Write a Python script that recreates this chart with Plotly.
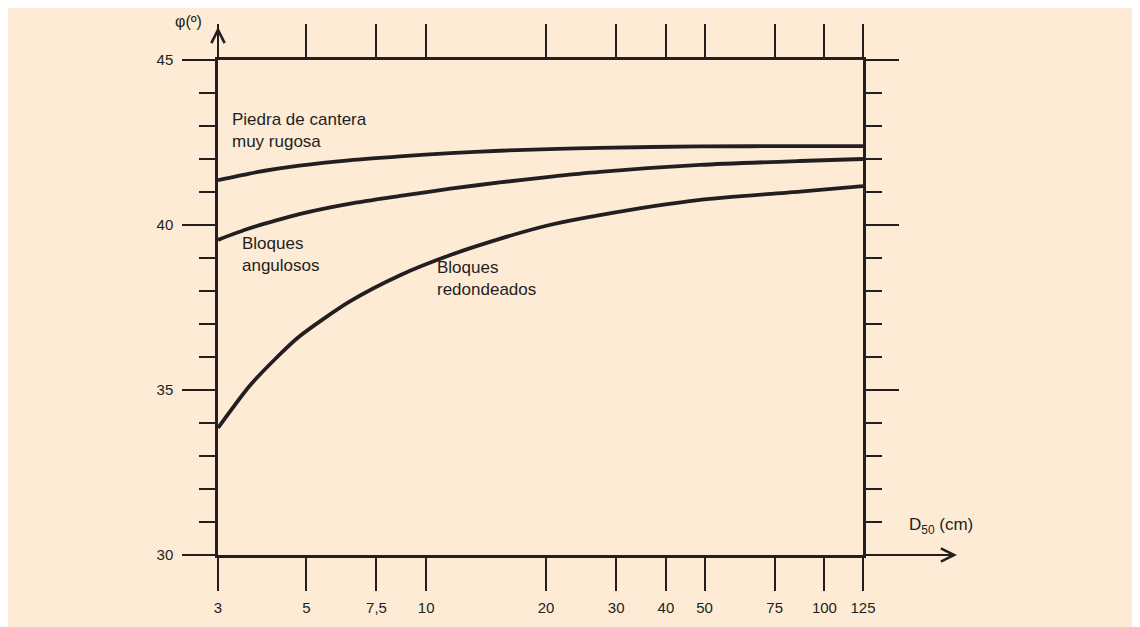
import plotly.graph_objects as go
import numpy as np

# ---------------- data ----------------
d50 = [3, 3.6, 4.2, 4.8, 6.4, 8.6, 11.5, 15.3, 20.4, 27.3, 48.7, 86.8, 125]
phi_cantera = [41.36, 41.56, 41.70, 41.80, 41.96, 42.08, 42.18, 42.25, 42.30, 42.34, 42.38, 42.39, 42.39]
phi_angulosos = [39.55, 39.90, 40.14, 40.33, 40.64, 40.88, 41.10, 41.29, 41.46, 41.61, 41.82, 41.94, 42.00]
phi_redondeados = [33.85, 35.12, 35.97, 36.62, 37.67, 38.48, 39.09, 39.58, 40.00, 40.30, 40.76, 41.01, 41.18]

x_tickvals = [3, 5, 7.5, 10, 20, 30, 40, 50, 75, 100, 125]
x_ticktext = ["3", "5", "7,5", "10", "20", "30", "40", "50", "75", "100", "125"]
y_tickvals = [30, 35, 40, 45]

INK = "#231f20"
BG = "#fdebd6"
FONT = "Liberation Sans, Arial, sans-serif"

OFF = 8                     # page body margin
W, H = 1140 - OFF, 627 - OFF
L, R, T, B = 218, 863, 60, 555  # plot area in reference-page pixels


def px(xp):
    return (xp - L) / (R - L)


def py(yp):
    return (B - yp) / (B - T)


fig = go.Figure()
for ys in (phi_cantera, phi_angulosos, phi_redondeados):
    fig.add_trace(go.Scatter(x=d50, y=ys, mode="lines",
                             line=dict(color=INK, width=3.8, shape="spline", smoothing=0.7),
                             hoverinfo="skip", showlegend=False))

fig.update_layout(
    width=W, height=H,
    margin=dict(l=L - OFF, r=(1140 - R), t=T - OFF, b=627 - B, pad=0),
    paper_bgcolor=BG,
    plot_bgcolor=BG,
    font=dict(family=FONT, size=15, color=INK),
    showlegend=False,
    xaxis=dict(type="log", range=[np.log10(3), np.log10(125)],
               tickvals=x_tickvals, ticktext=x_ticktext,
               ticks="outside", ticklen=33, tickwidth=2, tickcolor=INK,
               showline=True, linewidth=2.5, linecolor=INK, mirror="ticks",
               showgrid=False, zeroline=False, ticklabelstandoff=4,
               tickfont=dict(size=15, color=INK, family=FONT)),
    yaxis=dict(range=[30, 45], tickvals=y_tickvals,
               ticks="outside", ticklen=33, tickwidth=2, tickcolor=INK,
               minor=dict(ticks="outside", ticklen=16, tickwidth=2, tickcolor=INK, dtick=1,
                          showgrid=False),
               showline=True, linewidth=2.5, linecolor=INK, mirror="ticks",
               showgrid=False, zeroline=False, ticklabelstandoff=6,
               tickfont=dict(size=15, color=INK, family=FONT)),
)

# arrowheads on the axes
fig.add_annotation(xref="paper", yref="paper", x=px(957), y=py(B), ax=-94, ay=0,
                   text="", showarrow=True, arrowhead=5, arrowsize=1.3, arrowwidth=2,
                   arrowcolor=INK, standoff=0)
fig.add_annotation(xref="paper", yref="paper", x=px(L), y=py(27), ax=0, ay=33,
                   text="", showarrow=True, arrowhead=5, arrowsize=1.3, arrowwidth=2,
                   arrowcolor=INK, standoff=0)

# labels
txt = dict(showarrow=False, xref="paper", yref="paper", xanchor="left", yanchor="top",
           align="left", font=dict(size=17, color=INK, family=FONT))
fig.add_annotation(x=px(230), y=py(108), text="Piedra de cantera<br>muy rugosa", **txt)
fig.add_annotation(x=px(240), y=py(232), text="Bloques<br>angulosos", **txt)
fig.add_annotation(x=px(435), y=py(256), text="Bloques<br>redondeados", **txt)
fig.add_annotation(x=px(188), y=py(22), text="φ(º)", showarrow=False, xref="paper",
                   yref="paper", xanchor="center", yanchor="middle",
                   font=dict(size=16, color=INK, family=FONT))
fig.add_annotation(x=px(907), y=py(526), text="D<sub>50</sub> (cm)", showarrow=False,
                   xref="paper", yref="paper", xanchor="left", yanchor="middle",
                   font=dict(size=17, color=INK, family=FONT))

fig.write_html("out.html")
